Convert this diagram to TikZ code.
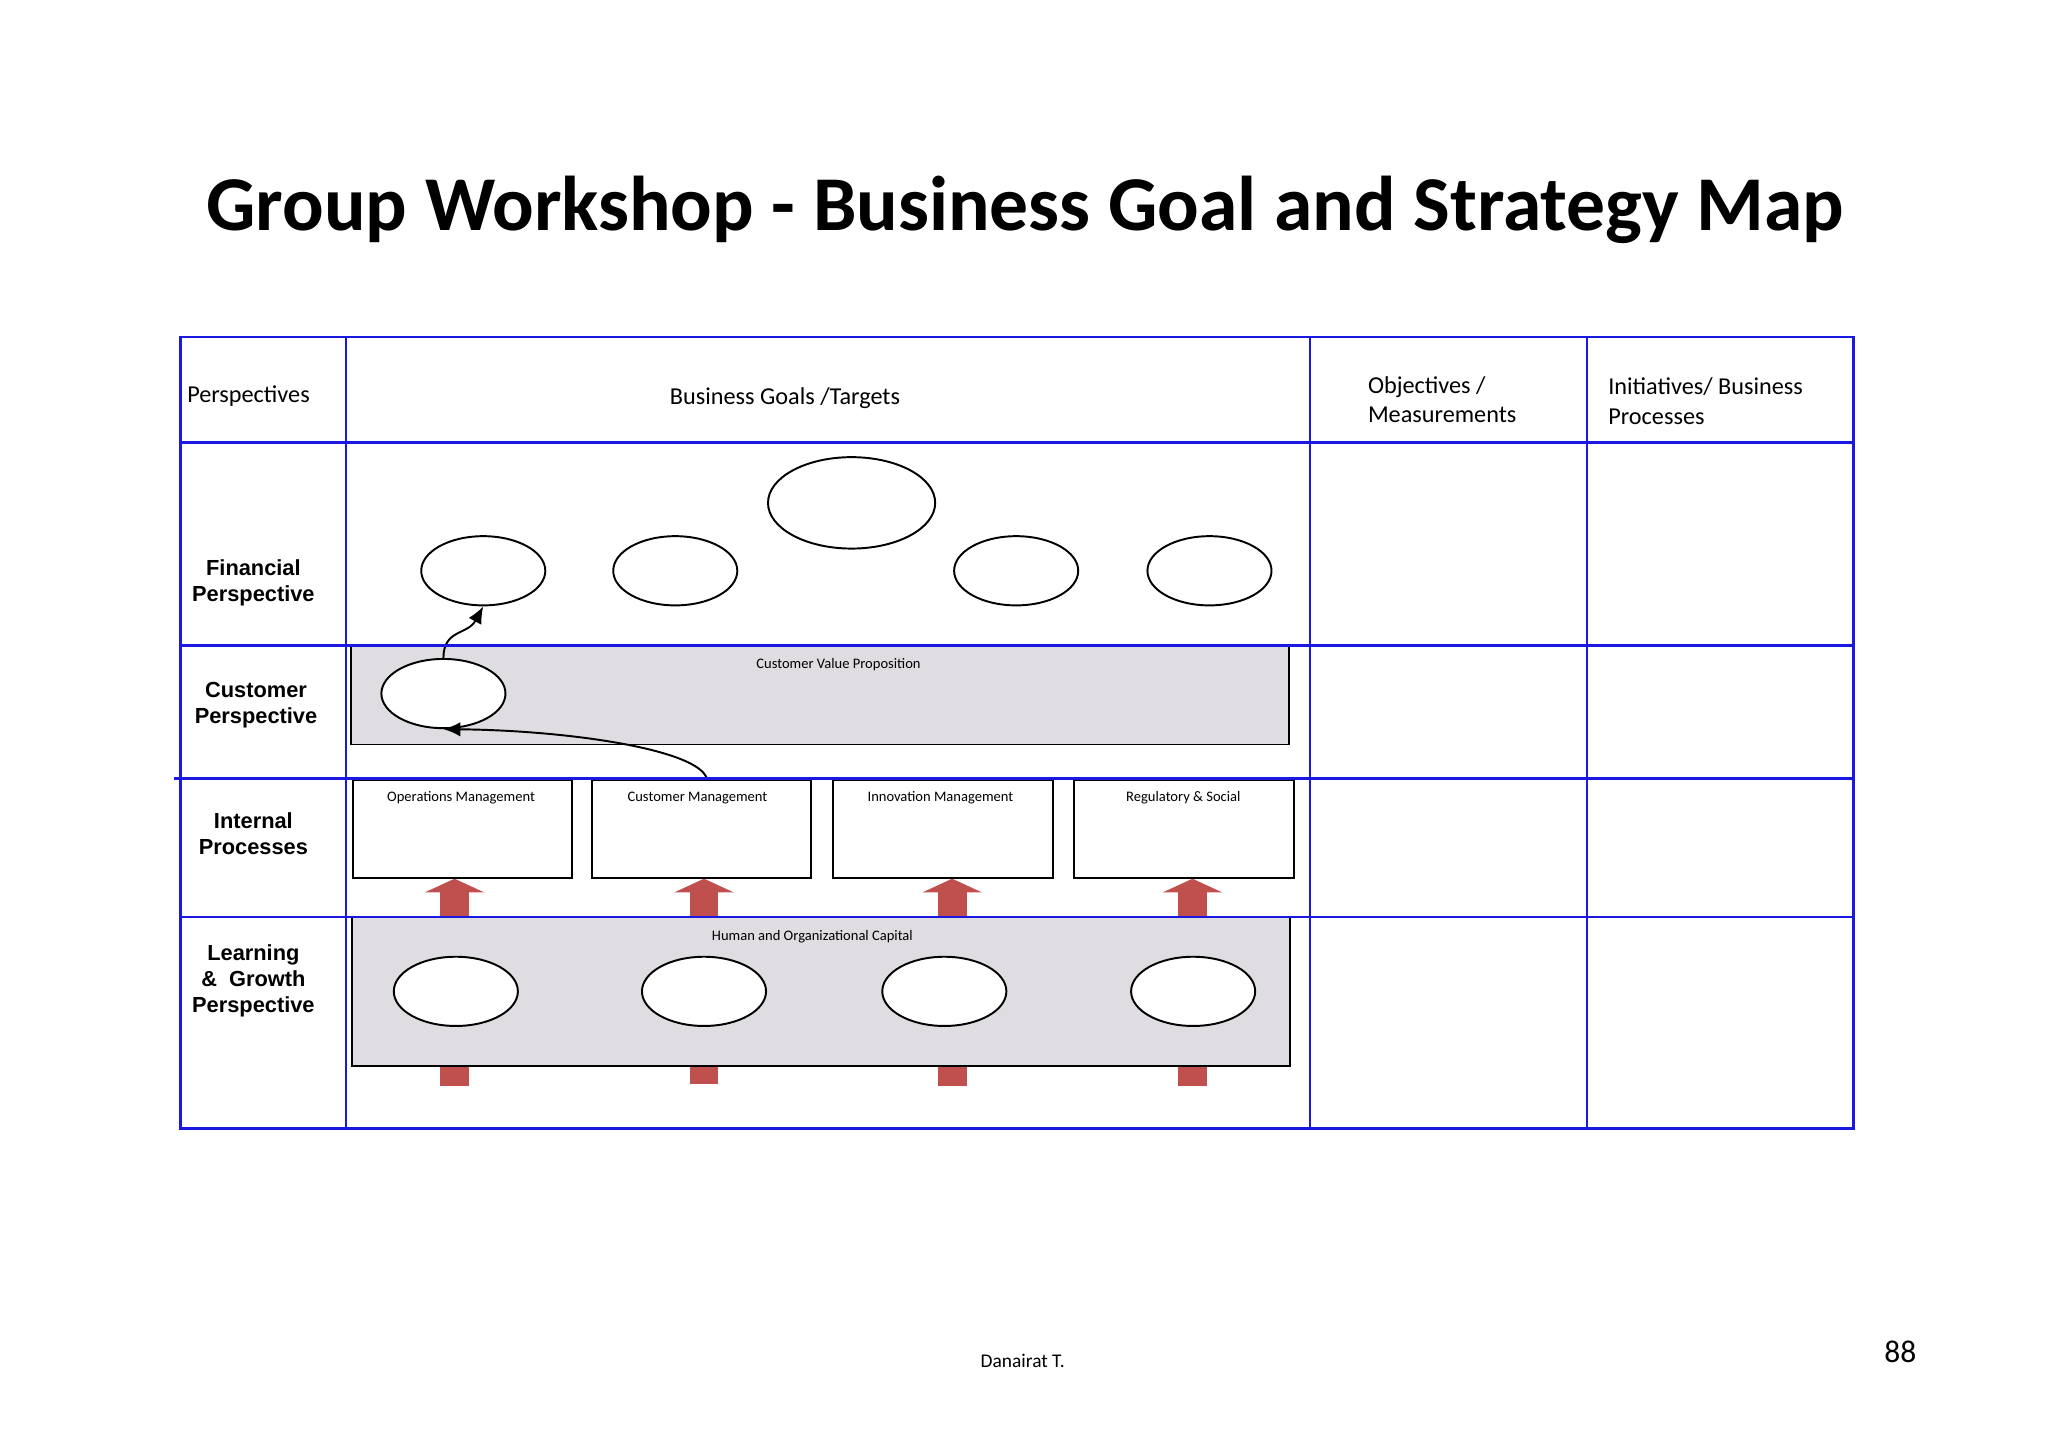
\documentclass[tikz,border=0pt]{standalone}
\usepackage{fontspec}
\setmainfont{Carlito}
\newfontfamily\arialfont{Liberation Sans}
\usetikzlibrary{shapes.geometric, arrows.meta}
\definecolor{gridblue}{RGB}{25,25,225}
\definecolor{capgray}{RGB}{223,221,226}
\definecolor{liftred}{RGB}{192,80,77}
\newcommand{\pxu}{0.018941cm}
\tikzstyle{tableline} = [draw=gridblue, line width=1.1pt]
\tikzstyle{goal} = [ellipse, draw, fill=white, line width=0.8pt, minimum width=95*\pxu, minimum height=53*\pxu, inner sep=0pt]
\tikzstyle{biggoal} = [goal, minimum width=128*\pxu, minimum height=70*\pxu]
\tikzstyle{capbox} = [rectangle, draw, fill=capgray, line width=0.8pt, minimum width=718*\pxu, inner sep=0pt]
\tikzstyle{procbox} = [rectangle, draw, fill=white, line width=0.8pt, minimum width=168*\pxu, minimum height=75*\pxu, inner sep=0pt]
\tikzstyle{boxlabel} = [font=\fontsize{6}{7}\selectfont, inner sep=0pt]
\tikzstyle{rowlabel} = [font=\arialfont\bfseries\fontsize{9}{10.7}\selectfont, align=center, inner sep=0pt]
\tikzstyle{headtext} = [font=\fontsize{10}{12.3}\selectfont, align=left, inner sep=0pt]
\tikzstyle{arrow} = [line width=0.8pt, -{Latex[length=7pt,width=6pt]}]
\tikzstyle{lift} = [draw=liftred, line width=0.42cm, -{Triangle[width=0.86cm,length=0.2cm]}]
\tikzstyle{stub} = [draw=liftred, line width=0.42cm]
\begin{document}
\begin{tikzpicture}[x=\pxu, y=-\pxu]
            \useasboundingbox (0,0) rectangle (1568,1108);
            \node [font=\bfseries\fontsize{32}{38}\selectfont] at (785,161) (title) {Group Workshop - Business Goal and Strategy Map};
            \node [headtext, anchor=west] at (143,303) (persp) {Perspectives};
            \node [headtext] at (601,305) (goals) {Business Goals /Targets};
            \node [headtext, anchor=west] at (1047,306) (objs) {Objectives /\\Measurements};
            \node [headtext, anchor=west] at (1231,307) (inits) {Initiatives/ Business\\Processes};
            \node [rowlabel] at (194,446) (finrow) {Financial\\Perspective};
            \node [rowlabel] at (196,540) (custrow) {Customer\\Perspective};
            \node [rowlabel] at (194,638) (procrow) {Internal\\Processes};
            \node [rowlabel] at (194,751) (learnrow) {Learning\\\&\ \ Growth\\Perspective};
            \node [goal] at (370,437) (fin1) {};
            \node [goal] at (517,437) (fin2) {};
            \node [biggoal] at (652,385) (fin3) {};
            \node [goal] at (778,437) (fin4) {};
            \node [goal] at (926,437) (fin5) {};
            \node [capbox, minimum height=76*\pxu] at (628,532) (cvp) {};
            \node [boxlabel] at (642,508.5) (cvptext) {Customer Value Proposition};
            \node [goal] at (339.5,531) (cv1) {};
            \node [procbox] at (354,634.5) (ops) {};
            \node [procbox] at (537,634.5) (cmg) {};
            \node [procbox] at (722,634.5) (inno) {};
            \node [procbox] at (906.5,634.5) (reg) {};
            \node [boxlabel] at (353,611) (opstext) {Operations Management};
            \node [boxlabel] at (534,611) (cmgtext) {Customer Management};
            \node [boxlabel] at (720,611) (innotext) {Innovation Management};
            \node [boxlabel] at (906,611) (regtext) {Regulatory \& Social};
            \node [capbox, minimum height=114*\pxu] at (628.5,759) (hoc) {};
            \node [boxlabel] at (622,717.5) (hoctext) {Human and Organizational Capital};
            \node [goal] at (349,759) (hoc1) {};
            \node [goal] at (539,759) (hoc2) {};
            \node [goal] at (723,759) (hoc3) {};
            \node [goal] at (913.5,759) (hoc4) {};
            \coordinate (up1) at (348,702);
            \coordinate (up2) at (539,702);
            \coordinate (up3) at (729,702);
            \coordinate (up4) at (913,702);
            \draw [lift] (up1) -- (up1 |- ops.south);
            \draw [lift] (up2) -- (up2 |- cmg.south);
            \draw [lift] (up3) -- (up3 |- inno.south);
            \draw [lift] (up4) -- (up4 |- reg.south);
            \draw [stub] (up1 |- hoc.south) -- ++(0,15);
            \draw [stub] (up2 |- hoc.south) -- ++(0,13);
            \draw [stub] (up3 |- hoc.south) -- ++(0,15);
            \draw [stub] (up4 |- hoc.south) -- ++(0,15);
            \draw [arrow] (cv1.north) .. controls +(0,-22) and +(-12,22) .. (fin1.south);
            \draw [arrow] ([xshift=0.08cm]cmg.north) .. controls +(-6,-22) and +(98,1) .. (cv1.south);
            \draw [tableline] (138,258) rectangle (1419,864);
            \draw [tableline] (265,258) -- (265,864);
            \draw [tableline] (1003,258) -- (1003,864);
            \draw [tableline] (1215,258) -- (1215,864);
            \draw [tableline] (138,339) -- (1419,339);
            \draw [tableline] (138,494) -- (1419,494);
            \draw [tableline] (133,596) -- (1419,596);
            \draw [tableline] (138,702) -- (1419,702);
            \node [font=\fontsize{8}{9}\selectfont] at (783,1042) (author) {Danairat T.};
            \node [font=\fontsize{13}{15}\selectfont] at (1455,1035) (page) {88};
            \end{tikzpicture}
\end{document}
